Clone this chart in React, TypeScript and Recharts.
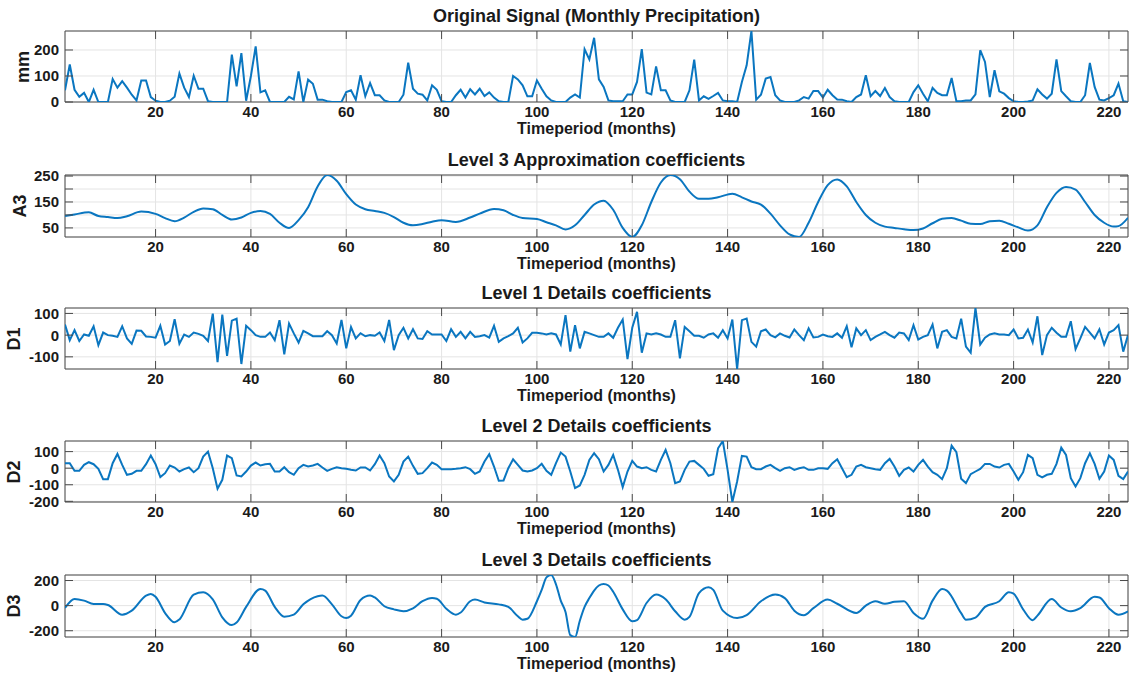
import React from 'react';
import { LineChart, Line, XAxis, YAxis, CartesianGrid, ReferenceArea } from 'recharts';

// ---------- data ----------
const X_TICKS = [20, 40, 60, 80, 100, 120, 140, 160, 180, 200, 220];

const PRECIP = [
  45, 144, 47, 20, 35, 0, 47, 0, 0, 0,
  88, 55, 80, 55, 28, 6, 83, 83, 19, 5,
  0, 0, 5, 20, 109, 55, 19, 101, 51, 51,
  3, 0, 0, 0, 0, 182, 60, 188, 5, 100,
  214, 37, 45, 0, 0, 0, 0, 20, 10, 118,
  0, 86, 70, 9, 9, 3, 0, 0, 0, 38,
  45, 9, 103, 22, 73, 26, 26, 6, 0, 0,
  0, 28, 151, 51, 32, 28, 6, 64, 47, 3,
  0, 0, 26, 47, 17, 49, 29, 51, 23, 37,
  17, 3, 0, 0, 100, 87, 64, 22, 22, 83,
  51, 22, 6, 0, 0, 0, 17, 29, 17, 203,
  164, 247, 87, 58, 6, 3, 3, 3, 29, 29,
  77, 203, 36, 29, 137, 45, 45, 6, 0, 0,
  0, 45, 163, 6, 22, 12, 23, 35, 6, 3,
  3, 0, 77, 141, 273, 9, 28, 90, 96, 26,
  6, 0, 0, 0, 6, 19, 13, 42, 42, 17,
  47, 26, 10, 9, 3, 0, 19, 29, 103, 22,
  42, 23, 54, 19, 3, 0, 0, 0, 38, 64,
  32, 3, 54, 35, 26, 26, 92, 3, 3, 6,
  6, 29, 199, 154, 19, 122, 41, 32, 15, 3,
  0, 0, 2, 6, 49, 29, 13, 32, 164, 42,
  22, 3, 0, 0, 26, 150, 58, 9, 6, 15,
  26, 71, 3, 0,
];

const D1 = [
  49, -23, 23, -27, 3, -3, 41, -46, 12, 0,
  -3, -8, 41, -15, -40, 21, 20, -6, -8, -12,
  43, -43, -27, 73, -40, 3, -8, 12, 6, -3,
  -27, 99, -125, 95, -96, 67, 76, -133, 43, 23,
  0, -8, -8, 12, -23, 69, -89, 53, 8, -34,
  20, 8, -5, -5, -5, 18, 0, -38, 70, -61,
  37, -15, 9, -5, 0, -3, 12, -27, 70, -69,
  0, 34, -15, 27, -15, -18, 18, 3, 3, 3,
  -27, 27, -8, 15, -15, 15, -8, -5, 0, -11,
  43, -31, -15, -5, 8, 34, -34, -15, 11, 11,
  8, 3, 8, 3, -43, 92, -76, 46, -61, 15,
  8, 0, -8, -8, 8, -12, 34, 72, -110, 34,
  107, -81, 8, 3, 8, 3, -8, -8, 69, -107,
  38, 18, -3, -3, -12, 3, 8, -12, 23, -15,
  72, -156, 69, 76, -31, -53, 18, 26, 0, -10,
  8, -3, -11, 26, 0, -23, 31, -11, -8, 3,
  -5, -8, 8, -12, 41, -56, 31, 0, 23, -23,
  -8, 3, 15, 0, -12, 12, 8, -23, 46, -20,
  -8, 0, 49, -61, 15, 23, -8, -15, 76, -53,
  -81, 125, -43, -12, 3, 8, 3, 3, 0, 26,
  -15, -12, 26, -34, 87, -92, 0, 34, 11, -8,
  -8, 64, -64, -15, 38, 12, -15, 27, -43, 12,
  23, 46, -76, 0,
];

const D2 = [
  30, 30, -16, -16, 20, 36, 24, -4, -66, -66,
  30, 86, 20, -40, -34, -16, -16, 24, 76, 24,
  -54, -30, 16, 4, -20, -6, 4, -24, 0, 70,
  100, 0, -124, -70, 76, 60, -44, -50, -20, 16,
  34, 16, 24, 26, -20, -20, 6, -24, -40, 0,
  20, 10, 16, 26, 4, -16, -4, 6, 0, -4,
  -10, -14, 4, 4, -14, 24, 76, 30, -50, -80,
  -40, 40, 70, 14, -34, -30, 0, 34, 20, -6,
  -6, -6, -4, 0, 6, -6, -34, -20, 40, 84,
  10, -76, -74, 0, 54, 20, -14, -20, -14, 0,
  26, -16, -40, 30, 94, 70, -20, -120, -104, -40,
  50, 90, 54, -20, 20, 80, -10, -114, -20, 44,
  10, 0, 6, -10, -20, 50, 110, 30, -90, -80,
  -10, 40, 44, 20, -4, -46, -36, 120, 164, -10,
  -204, -80, 74, 70, 6, -6, -6, 10, 20, 0,
  -16, 0, 6, -10, 0, 6, -10, -10, 0, 0,
  -4, 30, 54, 0, -54, -40, 10, 20, 6, 0,
  -6, -10, 30, 56, 10, -46, -10, 4, -20, 20,
  50, 10, -24, -40, -66, 0, 136, 96, -64, -90,
  -36, -20, -4, 26, 26, 10, 4, 20, 26, -20,
  -70, -24, 80, 60, -40, -56, -40, -34, 26, 124,
  80, -60, -110, -60, 30, 90, 26, -64, -20, 76,
  50, -46, -66, -20,
];

const A3_MONTHS = [
  1, 3, 6, 8, 10, 12, 14, 17, 20, 22, 24, 26, 28, 30, 32, 34, 36, 38, 40, 42,
  44, 46, 48, 50, 52, 54, 56, 58, 60, 62, 64, 66, 68, 70, 72, 74, 76, 78, 80, 83,
  86, 88, 91, 93, 95, 97, 100, 102, 104, 106, 108, 110, 112, 114, 116, 118, 120, 122, 124, 126,
  128, 130, 132, 134, 136, 138, 141, 143, 145, 147, 149, 151, 153, 155, 157, 159, 161, 163, 165, 167,
  169, 171, 173, 175, 177, 179, 181, 183, 185, 187, 189, 191, 193, 195, 197, 199, 201, 203, 205, 207,
  209, 211, 213, 215, 217, 219, 221, 222, 224,
];
const A3_VALUES = [
  96, 102, 110, 96, 92, 88, 95, 113, 104, 88, 76, 90, 112, 125, 122, 100, 82, 90, 108, 115,
  104, 70, 50, 80, 130, 210, 254, 232, 180, 140, 122, 115, 108, 92, 70, 60, 65, 74, 80, 73,
  90, 105, 123, 118, 100, 88, 84, 72, 60, 44, 60, 100, 140, 155, 120, 50, 15, 60, 150, 225,
  254, 238, 190, 162, 162, 168, 182, 168, 152, 140, 105, 60, 25, 15, 70, 150, 215, 237, 210, 150,
  100, 70, 55, 50, 45, 42, 48, 68, 85, 88, 78, 66, 65, 76, 78, 66, 52, 40, 60, 130,
  185, 208, 198, 150, 100, 70, 55, 57, 89,
];

const D3_MONTHS = [
  1, 3, 5, 7, 9, 10, 13, 15, 18, 19, 20, 22, 24, 25, 28, 30, 32, 34, 36, 37,
  39, 42, 43, 45, 47, 49, 51, 54, 55, 57, 59, 60, 61, 63, 65, 66, 68, 70, 72, 74,
  76, 78, 79, 81, 83, 84, 86, 87, 89, 92, 94, 96, 97, 98, 100, 101, 102, 103, 104, 105,
  106, 107, 108, 109, 110, 111, 112, 113, 114, 115, 116, 118, 120, 121, 123, 125, 127, 129, 131, 132,
  134, 136, 137, 139, 142, 144, 147, 150, 152, 154, 156, 158, 161, 163, 167, 169, 171, 173, 175, 177,
  179, 181, 183, 185, 186, 189, 190, 192, 194, 197, 199, 200, 202, 204, 205, 208, 210, 212, 214, 217,
  218, 220, 222, 224,
];
const D3_VALUES = [
  -19, 53, 40, 13, 13, 5, -72, -40, 80, 93, 70, -59, -133, -110, 88, 107, 50, -93, -155, -135,
  -10, 133, 120, -10, -88, -72, 10, 75, 80, 10, -85, -99, -80, 45, 80, 65, -5, -30, -45, -22,
  35, 61, 55, -25, -72, -55, 35, 48, 25, 10, -10, -85, -112, -105, 35, 125, 225, 244, 170, 40,
  -50, -235, -250, -120, -10, 60, 120, 160, 173, 160, 110, -30, -125, -115, 21, 88, 50, -45, -112, -90,
  100, 147, 125, -40, -99, -75, 35, 88, 60, -40, -77, -20, 48, 15, -59, 0, 35, 15, 30, 35,
  -59, -105, 40, 133, 120, -60, -112, -95, -10, 35, 107, 95, -30, -117, -80, 53, -15, -45, -20, 70,
  65, -20, -72, -45,
];

// ---------- layout ----------
const FONT = '"Liberation Sans", Arial, Helvetica, sans-serif';
const W = 1130;
const LEFT = 65;
const RIGHT = 2;
const PAD = 12;
const XH = 24;
const TM = 4;
const TICK = 8;
const LINE_COLOR = '#0a76c0';
const AXIS_COLOR = '#4a4a4a';
const TEXT_COLOR = '#1a1a1a';

type Pt = { m: number; v: number };

const series = (months: number[], values: number[]): Pt[] =>
  months.map((m, i) => ({ m, v: values[i] }));
const monthly = (values: number[]): Pt[] => values.map((v, i) => ({ m: i + 1, v }));

const makeXTick = (plotTopLocal: number) => (props: any) => {
  const { x, y, payload } = props;
  const bottom = y - TM;
  return (
    <g>
      <line x1={x} x2={x} y1={bottom} y2={bottom - TICK} stroke={AXIS_COLOR} strokeWidth={1} />
      <line x1={x} x2={x} y1={plotTopLocal} y2={plotTopLocal + TICK} stroke={AXIS_COLOR} strokeWidth={1} />
      <text x={x} y={y} dy="0.76em" textAnchor="middle" fontFamily={FONT} fontWeight="bold" fontSize={15} fill={TEXT_COLOR}>
        {payload.value}
      </text>
    </g>
  );
};

const makeYTick = (labels: number[]) => (props: any) => {
  const { x, y, payload } = props;
  const show = labels.indexOf(payload.value) >= 0;
  return (
    <g>
      <line x1={LEFT} x2={LEFT + TICK} y1={y} y2={y} stroke={AXIS_COLOR} strokeWidth={1} />
      <line x1={W - RIGHT} x2={W - RIGHT - TICK} y1={y} y2={y} stroke={AXIS_COLOR} strokeWidth={1} />
      {show && (
        <text x={x} y={y} dy="0.36em" textAnchor="end" fontFamily={FONT} fontWeight="bold" fontSize={15} fill={TEXT_COLOR}>
          {payload.value}
        </text>
      )}
    </g>
  );
};

type PanelProps = {
  title: string;
  ylabel: string;
  ylabelX: number;
  plotTop: number;
  plotBottom: number;
  data: Pt[];
  domain: [number, number];
  ticks: number[];
  labels: number[];
  curve: 'linear' | 'monotone';
};

const Panel = (p: PanelProps) => {
  const plotH = p.plotBottom - p.plotTop;
  const h = PAD + plotH + XH;
  const cx = (LEFT + W - RIGHT) / 2;
  return (
    <>
      <div
        style={{
          position: 'absolute',
          left: cx - 400,
          width: 800,
          top: p.plotTop - 23,
          textAlign: 'center',
          fontSize: 18,
          lineHeight: '16px',
          fontWeight: 'bold',
          color: TEXT_COLOR,
          whiteSpace: 'nowrap',
        }}
      >
        {p.title}
      </div>
      <div style={{ position: 'absolute', left: 0, top: p.plotTop - PAD, width: W, height: h }}>
        <LineChart width={W} height={h} data={p.data} margin={{ top: PAD, right: RIGHT, bottom: 0, left: 0 }}>
          <CartesianGrid stroke="#e4e4e4" strokeWidth={1} />
          <XAxis
            dataKey="m"
            type="number"
            domain={[1, 224]}
            ticks={X_TICKS}
            interval={0}
            height={XH}
            tickSize={0}
            tickMargin={TM}
            axisLine={false}
            tickLine={false}
            tick={makeXTick(PAD)}
            allowDataOverflow
          />
          <YAxis
            type="number"
            domain={p.domain}
            ticks={p.ticks}
            interval={0}
            width={LEFT}
            tickSize={0}
            tickMargin={6}
            axisLine={false}
            tickLine={false}
            tick={makeYTick(p.labels)}
            allowDataOverflow
          />
          <Line
            dataKey="v"
            type={p.curve}
            stroke={LINE_COLOR}
            strokeWidth={2}
            dot={false}
            activeDot={false}
            isAnimationActive={false}
          />
          <ReferenceArea
            x1={1}
            x2={224}
            y1={p.domain[0]}
            y2={p.domain[1]}
            fill="none"
            fillOpacity={0}
            stroke={AXIS_COLOR}
            strokeWidth={1}
          />
        </LineChart>
      </div>
      <div
        style={{
          position: 'absolute',
          left: cx - 300,
          width: 600,
          top: p.plotBottom + 20,
          textAlign: 'center',
          fontSize: 16,
          lineHeight: '13px',
          fontWeight: 'bold',
          color: TEXT_COLOR,
          whiteSpace: 'nowrap',
        }}
      >
        Timeperiod (months)
      </div>
      <div
        style={{
          position: 'absolute',
          left: p.ylabelX,
          top: (p.plotTop + p.plotBottom) / 2,
          transform: 'translate(-50%, -50%) rotate(-90deg)',
          fontSize: 18,
          lineHeight: '18px',
          fontWeight: 'bold',
          color: TEXT_COLOR,
          whiteSpace: 'nowrap',
        }}
      >
        {p.ylabel}
      </div>
    </>
  );
};

export default function App() {
  return (
    <div
      style={{
        position: 'absolute',
        left: 0,
        top: 0,
        width: W,
        height: 675,
        background: '#ffffff',
        fontFamily: FONT,
        overflow: 'hidden',
      }}
    >
      <Panel
        title="Original Signal (Monthly Precipitation)"
        ylabel="mm"
        ylabelX={23}
        plotTop={31}
        plotBottom={102}
        data={monthly(PRECIP)}
        domain={[0, 273]}
        ticks={[0, 100, 200]}
        labels={[0, 100, 200]}
        curve="linear"
      />
      <Panel
        title="Level 3 Approximation coefficients"
        ylabel="A3"
        ylabelX={20}
        plotTop={175}
        plotBottom={237}
        data={series(A3_MONTHS, A3_VALUES)}
        domain={[15, 254]}
        ticks={[50, 100, 150, 200, 250]}
        labels={[50, 150, 250]}
        curve="monotone"
      />
      <Panel
        title="Level 1 Details coefficients"
        ylabel="D1"
        ylabelX={14}
        plotTop={308}
        plotBottom={369}
        data={monthly(D1)}
        domain={[-156, 125]}
        ticks={[-100, 0, 100]}
        labels={[-100, 0, 100]}
        curve="linear"
      />
      <Panel
        title="Level 2 Details coefficients"
        ylabel="D2"
        ylabelX={14}
        plotTop={441}
        plotBottom={502}
        data={monthly(D2)}
        domain={[-204, 164]}
        ticks={[-200, -100, 0, 100]}
        labels={[-200, -100, 0, 100]}
        curve="linear"
      />
      <Panel
        title="Level 3 Details coefficients"
        ylabel="D3"
        ylabelX={14}
        plotTop={575}
        plotBottom={637}
        data={series(D3_MONTHS, D3_VALUES)}
        domain={[-250, 244]}
        ticks={[-200, 0, 200]}
        labels={[-200, 0, 200]}
        curve="monotone"
      />
    </div>
  );
}
